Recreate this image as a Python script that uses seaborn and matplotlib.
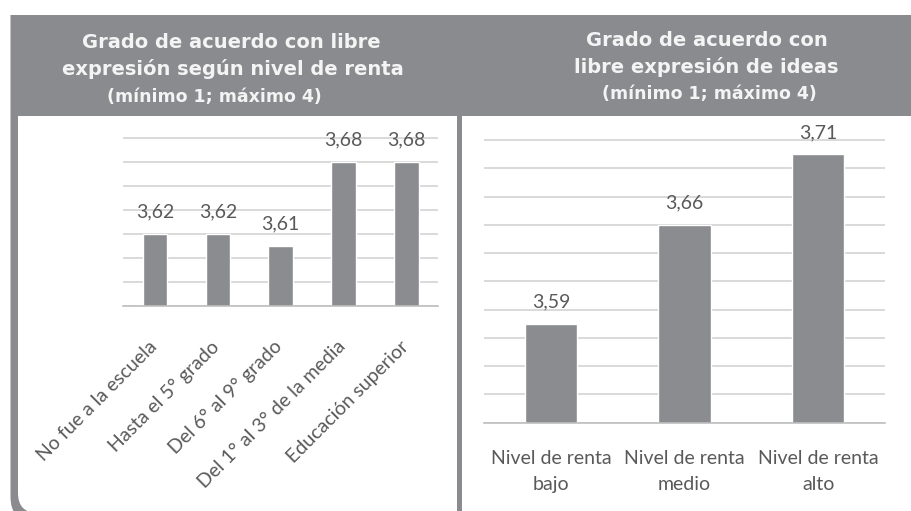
import matplotlib
matplotlib.use('Agg')
import numpy as np
import matplotlib.pyplot as plt
import seaborn as sns
from matplotlib.patches import FancyBboxPatch, Rectangle
from matplotlib.transforms import IdentityTransform
from matplotlib.ticker import FixedLocator

# ---------------- data ----------------
left_title = ["Grado de acuerdo con libre", "expresión según nivel de renta", "(mínimo 1; máximo 4)"]
right_title = ["Grado de acuerdo con", "libre expresión de ideas", "(mínimo 1; máximo 4)"]
edu_categories = ["No fue a la escuela", "Hasta el 5° grado", "Del 6° al 9° grado",
                  "Del 1° al 3° de la media", "Educación superior"]
edu_values = [3.62, 3.62, 3.61, 3.68, 3.68]
income_categories = ["Nivel de renta\nbajo", "Nivel de renta\nmedio", "Nivel de renta\nalto"]
income_values = [3.59, 3.66, 3.71]

# ---------------- style ----------------
sns.set_style("white")
plt.rcParams['font.family'] = ['Lato', 'DejaVu Sans']

W, H = 912, 511
HEAD = '#8a8b8e'
BAR = '#8b8c8f'
GRID = '#d9d9d9'
AXC = '#bfbfbf'
TXT = '#595959'
TITLE = '#f4f4f4'

fig = plt.figure(figsize=(W / 100, H / 100), dpi=100)
fig.patch.set_facecolor('white')
IT = IdentityTransform()


def rbox(x0, y0, x1, y1, color, r, z):
    p = FancyBboxPatch((x0 + r, H - y1 + r), (x1 - x0) - 2 * r, (y1 - y0) - 2 * r,
                       boxstyle=f"round,pad={r}", transform=IT, facecolor=color,
                       edgecolor='none', zorder=z)
    fig.add_artist(p)


def rect(x0, y0, x1, y1, color, z):
    p = Rectangle((x0, H - y1), x1 - x0, y1 - y0, transform=IT, facecolor=color,
                  edgecolor='none', zorder=z)
    fig.add_artist(p)


# frame: gray card with rounded bottom corners, white panels with square tops
rbox(10.5, -40, 930, 522, HEAD, 25, -20)
rect(0, -5, W + 5, 15, 'white', -19)
rbox(18, 90, 456.5, 513, 'white', 20, -18)
rect(45, 100, 456.5, 530, 'white', -18)
rbox(462, 90, 918, 515, 'white', 20, -18)
rect(462, 100, 890, 530, 'white', -18)
rect(10.5, 15, 930, 115.5, HEAD, -17)

# header titles
def title(lines, xs, ys, sizes):
    for t, x, y, s in zip(lines, xs, ys, sizes):
        fig.text(x / W, 1 - y / H, t, ha='center', va='baseline', color=TITLE,
                 fontsize=s, fontweight='bold', family='DejaVu Sans')

title(left_title, [231, 233, 214], [48, 75, 102], [14, 14, 12.5])
title(right_title, [706.5, 706.5, 709], [46, 73, 99], [14, 14, 12.5])


def style_axes(ax, n, ylo, yhi, top):
    ax.set_facecolor('none')
    ax.set_xlim(-0.5, n - 0.5)
    ax.set_ylim(ylo, top)
    ax.set_yticks(np.round(np.arange(ylo, yhi + 0.001, 0.02), 2))
    ax.yaxis.grid(True, color=GRID, lw=1.4)
    ax.xaxis.grid(False)
    ax.set_axisbelow(True)
    ax.tick_params(axis='y', length=0, labelleft=False)
    for s in ['left', 'top', 'right']:
        ax.spines[s].set_visible(False)
    ax.spines['bottom'].set_color(AXC)
    ax.spines['bottom'].set_linewidth(1.2)
    ax.xaxis.set_minor_locator(FixedLocator(np.arange(-0.5, n, 1)))
    ax.tick_params(axis='x', which='minor', length=4.5, width=1.2, color=AXC, direction='out')
    ax.set_xlabel('')
    ax.set_ylabel('')


def value_labels(ax, vals):
    for i, v in enumerate(vals):
        ax.annotate(f"{v:.2f}".replace('.', ','), xy=(i, v), xytext=(0, 15.5),
                    textcoords='offset points', ha='center', va='center',
                    color=TXT, fontsize=14, annotation_clip=False)


# left chart
ax1 = fig.add_axes([123.5 / W, 1 - 306 / H, (438 - 123.5) / W, (306 - 134.1) / H])
sns.barplot(x=edu_categories, y=edu_values, ax=ax1, color=BAR, saturation=1,
            width=0.39, errorbar=None)
style_axes(ax1, len(edu_values), 3.56, 3.70, 3.703)
ax1.set_xticks(range(len(edu_categories)))
ax1.set_xticklabels([])
ax1.tick_params(axis='x', which='major', length=0)
for i, lab in enumerate(edu_categories):
    ax1.annotate(lab, xy=(i, 0), xycoords=('data', 'axes fraction'),
                 xytext=(-5.0, -23.0), textcoords='offset points',
                 rotation=45, ha='right', va='top', rotation_mode='anchor',
                 color=TXT, fontsize=14, annotation_clip=False)
value_labels(ax1, edu_values)

# right chart
ax2 = fig.add_axes([484 / W, 1 - 422.7 / H, (885 - 484) / W, (422.7 - 135.8) / H])
sns.barplot(x=income_categories, y=income_values, ax=ax2, color=BAR, saturation=1,
            width=0.39, errorbar=None)
style_axes(ax2, len(income_values), 3.52, 3.72, 3.723)
ax2.set_xticks(range(len(income_categories)))
ax2.set_xticklabels(income_categories, ha='center', color=TXT, fontsize=14,
                    linespacing=1.65)
ax2.tick_params(axis='x', which='major', length=0, pad=19.5)
value_labels(ax2, income_values)

fig.savefig('out.png', dpi=100, facecolor='white')
